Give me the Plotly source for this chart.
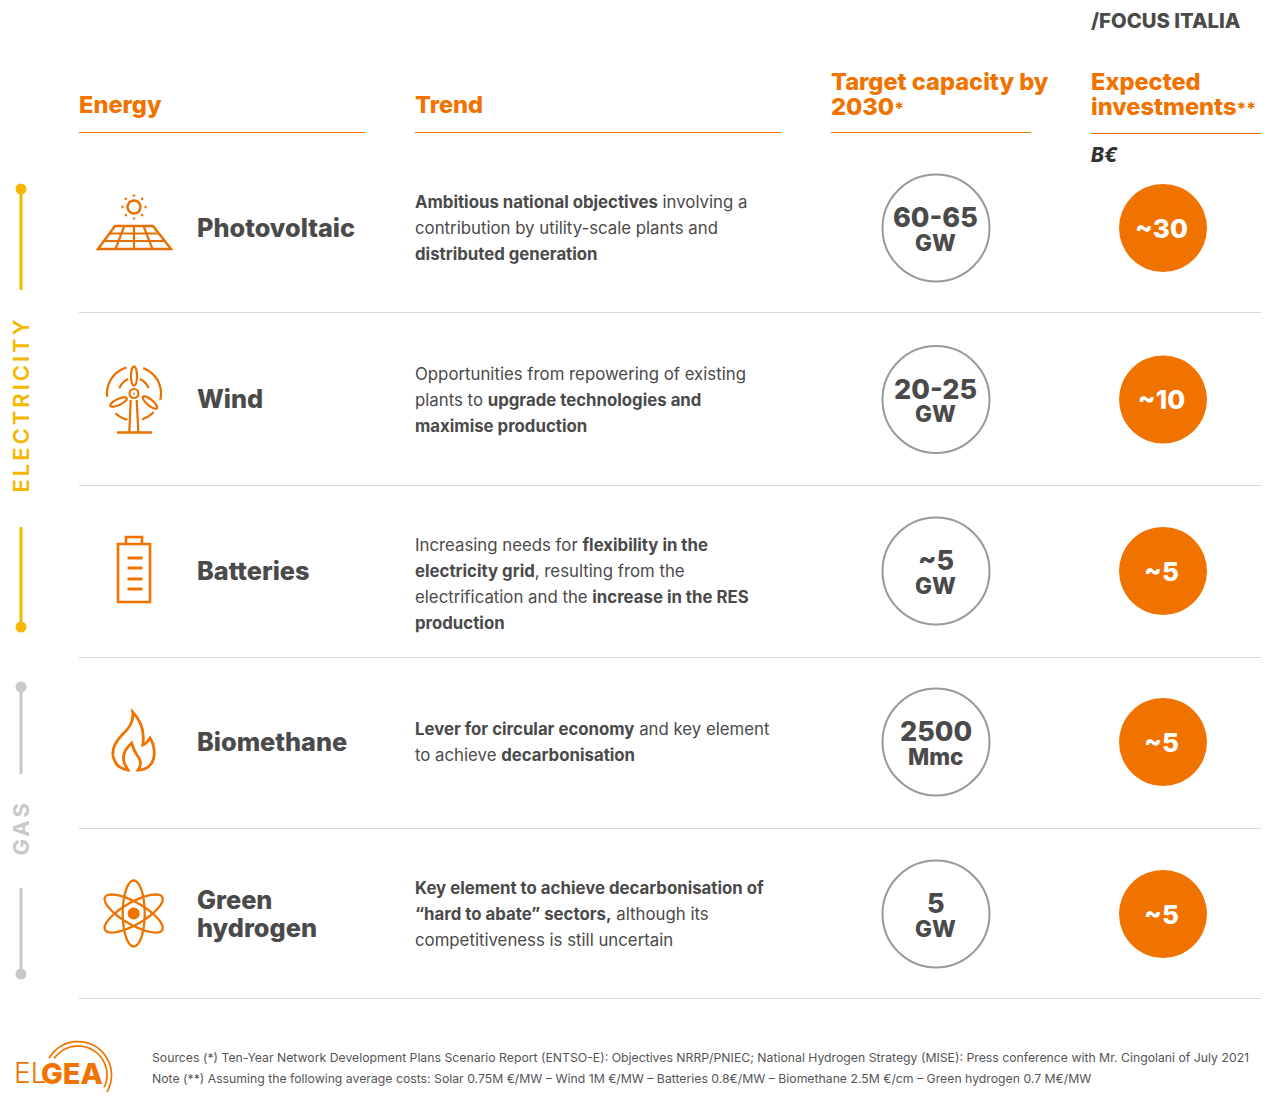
import math
import plotly.graph_objects as go

# ---------- data ----------
ENERGY = ["Photovoltaic", "Wind", "Batteries", "Biomethane", "Green<br>hydrogen"]
TARGET_VALUES = ["60-65", "20-25", "~5", "2500", "5"]
TARGET_UNITS = ["GW", "GW", "GW", "Mmc", "GW"]
INVESTMENTS = ["~30", "~10", "~5", "~5", "~5"]
TREND_LINES = [
    ["<b>Ambitious national objectives</b> involving a",
     "contribution by utility-scale plants and",
     "<b>distributed generation</b>"],
    ["Opportunities from repowering of existing",
     "plants to <b>upgrade technologies and</b>",
     "<b>maximise production</b>"],
    ["Increasing needs for <b>flexibility in the</b>",
     "<b>electricity grid</b>, resulting from the",
     "electrification and the <b>increase in the RES</b>",
     "<b>production</b>"],
    ["<b>Lever for circular economy</b> and key element",
     "to achieve <b>decarbonisation</b>"],
    ["<b>Key element to achieve decarbonisation of</b>",
     "<b>“hard to abate” sectors,</b> although its",
     "competitiveness is still uncertain"],
]
SOURCES = "Sources (*) Ten-Year Network Development Plans Scenario Report (ENTSO-E): Objectives NRRP/PNIEC; National Hydrogen Strategy (MISE): Press conference with Mr. Cingolani of July 2021"
NOTE = "Note (**) Assuming the following average costs: Solar 0.75M €/MW – Wind 1M €/MW – Batteries 0.8€/MW – Biomethane 2.5M €/cm – Green hydrogen 0.7 M€/MW"

# ---------- layout constants ----------
ROW_Y = [228, 399.5, 571, 742, 914]
SEP_Y = [312, 485, 657, 828, 998]
ORANGE = "#F07300"
ICON = "#E87000"
DARK = "#4A4A4A"
GOLD = "#F5B800"
GREY = "#C8C8C8"
FONT = "Inter"

shapes, ann = [], []


def text(x, y, s, size, color=DARK, weight=400, anchor="left", angle=0, style="normal"):
    # large left-aligned titles sit about a pixel low in their line box
    yy = y - 1 if (anchor == "left" and size >= 20) else y
    ann.append(dict(x=x - 1 if anchor == "left" else x, y=yy, text=s, xref="x", yref="y", showarrow=False,
                    xanchor=anchor, yanchor="middle", align=anchor,
                    textangle=angle, borderpad=0,
                    font=dict(family=FONT, size=size, color=color, weight=weight, style=style)))


def line(x0, y0, x1, y1, color, w=1):
    shapes.append(dict(type="line", x0=x0, y0=y0, x1=x1, y1=y1, xref="x", yref="y",
                       line=dict(color=color, width=w)))


def path(d, color=ICON, w=2, fill=None):
    s = dict(type="path", path=d, xref="x", yref="y", line=dict(color=color, width=w))
    if fill:
        s["fillcolor"] = fill
    shapes.append(s)


def dot(cx, cy, r, color):
    shapes.append(dict(type="circle", x0=cx - r, y0=cy - r, x1=cx + r, y1=cy + r, xref="x", yref="y",
                       fillcolor=color, line=dict(width=0)))


def ring(cx, cy, r, color=ICON, w=2):
    shapes.append(dict(type="circle", x0=cx - r, y0=cy - r, x1=cx + r, y1=cy + r, xref="x", yref="y",
                       line=dict(color=color, width=w)))


def arc(cx, cy, r, a0, a1, n=24):
    pts = []
    for i in range(n + 1):
        a = math.radians(a0 + (a1 - a0) * i / n)
        pts.append((cx + r * math.cos(a), cy + r * math.sin(a)))
    return "M" + " L".join(f"{x:.2f},{y:.2f}" for x, y in pts)


def ellipse(cx, cy, rx, ry, rot, n=60):
    c, s = math.cos(math.radians(rot)), math.sin(math.radians(rot))
    pts = []
    for i in range(n):
        t = 2 * math.pi * i / n
        ex, ey = rx * math.cos(t), ry * math.sin(t)
        pts.append((cx + ex * c - ey * s, cy + ex * s + ey * c))
    return "M" + " L".join(f"{x:.2f},{y:.2f}" for x, y in pts) + " Z"


# ---------- rules ----------
for x0, x1, y in [(79, 365, 132.5), (415, 781, 132.5), (831, 1031, 132.5), (1091, 1261, 133.5)]:
    line(x0, y, x1, y, ORANGE, 1)
for y in SEP_Y:
    line(79, y + 0.5, 1261, y + 0.5, "#D8D8D8", 1)

# ---------- side brackets ----------
for y0, y1, yd, c in [(189, 290, 189, GOLD), (527, 627, 627, GOLD), (687, 774, 687, GREY), (888, 974, 974, GREY)]:
    line(21, y0, 21, y1, c, 3)
    dot(21, yd, 5.5, c)
text(21, 405, "ELECTRICITY", 22, GOLD, 600, "center", -90)
text(21, 828, "GAS", 22, GREY, 700, "center", -90)

# ---------- icons ----------
# solar
ring(134, 207, 6.5, ICON, 2.5)
for k in range(8):
    a = math.radians(45 * k)
    path(f"M{134 + 10.5 * math.cos(a):.2f},{207 + 10.5 * math.sin(a):.2f} L{134 + 12.5 * math.cos(a):.2f},{207 + 12.5 * math.sin(a):.2f}", ICON, 2.5)
path("M115,226 L153,226 L171,249 L98,249 Z", ICON, 2.4)
for y, xl, xr in [(233.5, 109, 159), (241, 103, 165)]:
    path(f"M{xl},{y} L{xr},{y}", ICON, 2.2)
for xt, xb in [(124.3, 115.5), (134, 134), (143.5, 152.5)]:
    path(f"M{xt},226 L{xb},249", ICON, 2.2)
# wind
cx, cy = 134, 393.5
ring(cx, cy, 4.5, ICON, 2.2)
dot(cx, cy, 1, ICON)
for a0, a1 in [(-187, -106), (-70, 14), (104, 133), (43, 73)]:
    path(arc(cx, cy, 27, a0, a1), ICON, 2.2)
for a0, a1 in [(-161, -112), (-68, -20)]:
    path(arc(cx, cy, 15.5, a0, a1), ICON, 2.2)
path(ellipse(cx, 376, 3, 9.5, 0), ICON, 2.2)
path(ellipse(118.5, 402, 3, 9, 65), ICON, 2.2)
path(ellipse(150, 402.5, 3, 9, -50), ICON, 2.2)
path("M130.7,400 L129.3,432 M136.7,400 L138.3,432", ICON, 2.2)
path("M117,432.5 L152,432.5", ICON, 2.4)
# battery
path("M118,544 L150,544 L150,602 L118,602 Z", ORANGE, 2.6)
path("M126,544 L126,537 L142,537 L142,544", ORANGE, 2.6)
for y in [558, 568, 579, 589]:
    path(f"M127.5,{y} L142.5,{y}", ORANGE, 3)
# flame
path("M132.7,712 C142,722 145,732 142.7,745 C146,744 148,741 150,738 C155,746 156,757 151,764 "
     "C148,768 143,770 138,770 C142,764 141,760 137,755 C134,751 133,747 131.7,743 C126,748 122,755 124,762 "
     "C125,765 127,768 128,770 C120,769 115,765 113,756 C112,748 116,741 122,735 C128,729 134,723 132.7,712 Z",
     ORANGE, 2.8)
# atom
acx, acy = 133.7, 913.5
for rot in [0, 60, -60]:
    path(ellipse(acx, acy, 11, 33, rot), ORANGE, 2.3)
dot(acx, acy, 6, ORANGE)
# logo
path(arc(78, 1075, 33.5, -150, 30, 40), ORANGE, 1.7)
path(arc(78, 1075, 29, -145, 25, 40), ORANGE, 1.7)
text(14, 1074, "EL", 28, ORANGE, 300)
text(41, 1074, "GEA", 29, ORANGE, 800)

# ---------- headers ----------
text(1091, 21, "/FOCUS ITALIA", 20.3, DARK, 800)
text(79, 105, "Energy", 23.6, ORANGE, 800)
text(415, 105, "Trend", 23.6, ORANGE, 800)
text(831, 82, "Target capacity by", 23.6, ORANGE, 800)
text(831, 107, "2030<span style='font-size:17px'>*</span>", 23.6, ORANGE, 800)
text(1091, 82, "Expected", 23.6, ORANGE, 800)
text(1091, 107, "investments<span style='font-size:17px'>**</span>", 23.6, ORANGE, 800)
text(1091, 155, "B€", 19.5, "#333333", 800, style="italic")

# ---------- rows ----------
for i, ry in enumerate(ROW_Y):
    name = ENERGY[i].split("<br>")
    if len(name) == 1:
        text(197, ry, name[0], 25.3, DARK, 800)
    else:
        text(197, ry - 14, name[0], 25.3, DARK, 800)
        text(197, ry + 14, name[1], 25.3, DARK, 800)
    lines = TREND_LINES[i]
    top = {0: -26, 1: -26, 2: -26, 3: -13, 4: -26}[i]
    for j, s in enumerate(lines):
        text(415, ry + top + 26 * j, s, 16.8, DARK, 400)
    text(935.5, ry - 10.5, TARGET_VALUES[i], 27, DARK, 800, "center")
    text(935.5, ry + 14, TARGET_UNITS[i], 22.5, DARK, 800, "center")

text(152, 1057, SOURCES, 12.25, "#555555", 400)
text(152, 1078, NOTE, 12.25, "#555555", 400)

# ---------- figure ----------
fig = go.Figure()
fig.add_trace(go.Scatter(x=[936] * len(ROW_Y), y=ROW_Y, mode="markers", hoverinfo="skip",
                         marker=dict(size=107, color="white", line=dict(color="#999999", width=2))))
fig.add_trace(go.Scatter(x=[1163] * len(ROW_Y), y=ROW_Y, mode="markers", hoverinfo="skip",
                         marker=dict(size=88, color=ORANGE, line=dict(width=0))))
fig.add_trace(go.Scatter(x=[1161.5] * len(ROW_Y), y=[r + 3 for r in ROW_Y], mode="text", hoverinfo="skip",
                         text=INVESTMENTS, textposition="middle center",
                         textfont=dict(family=FONT, size=26, color="white", weight=800)))
fig.update_layout(
    width=1285, height=1103, margin=dict(l=0, r=0, t=0, b=0), showlegend=False,
    paper_bgcolor="white", plot_bgcolor="white",
    xaxis=dict(range=[0, 1285], visible=False, fixedrange=True),
    yaxis=dict(range=[1103, 0], visible=False, fixedrange=True),
    shapes=shapes, annotations=ann,
)
SPACING_JS = """
document.body.style.margin='0';document.documentElement.style.overflow='hidden';
function spaceSideLabels(){document.querySelectorAll('.annotation-text').forEach(function(t){
  if(t.textContent==='ELECTRICITY'||t.textContent==='GAS'){t.style.letterSpacing='3px';}
});}
spaceSideLabels();setTimeout(spaceSideLabels,50);
"""
fig.write_html("out.html", config={"displayModeBar": False}, post_script=SPACING_JS)
